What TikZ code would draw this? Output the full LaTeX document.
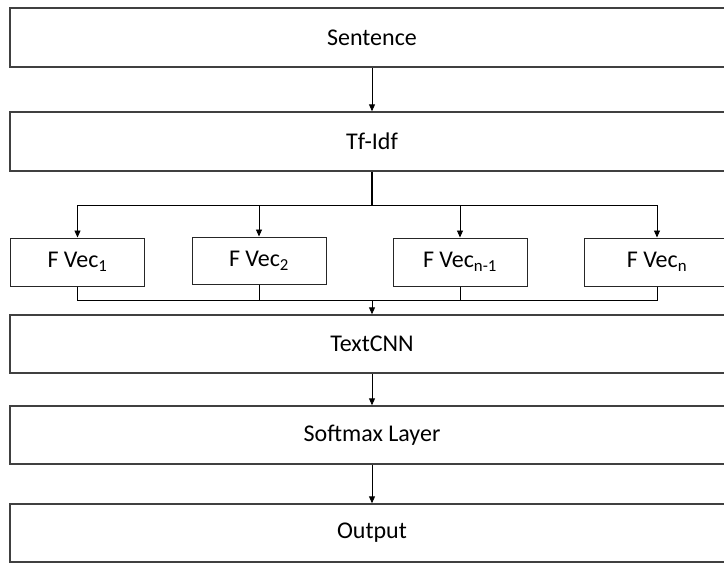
\documentclass[tikz,border=0pt]{standalone}
\usepackage{fontspec}
\setmainfont{Carlito}
\usetikzlibrary{arrows.meta}
\begin{document}
\begin{tikzpicture}[x=1pt,y=-1pt,
  bigbox/.style={draw=black!75, line width=1.4pt, minimum width=724pt, minimum height=58pt, inner sep=0pt, font=\fontsize{24}{28}\selectfont},
  vecbox/.style={draw=black!85, line width=1pt, minimum width=134pt, minimum height=48pt, inner sep=0pt, font=\fontsize{24}{28}\selectfont},
  conn/.style={draw=black, line width=0.9pt},
  arr/.style={conn, -{Triangle[length=7pt,width=6pt]}}]
\clip (0,0) rectangle (724,563);
\fill[white] (0,0) rectangle (724,563);
\node[bigbox, minimum height=59pt] (sent) at (372,37.5) {Sentence};
\node[bigbox, minimum height=59pt] (tfidf) at (372,141.5) {Tf-Idf};
\node[vecbox] (v1) at (77.5,262) {F Vec\textsubscript{1}};
\node[vecbox, minimum height=47pt] (v2) at (259,260.5) {F Vec\textsubscript{2}};
\node[vecbox] (v3) at (460,262) {F Vec\textsubscript{n-1}};
\node[vecbox, minimum width=146pt] (v4) at (657,262) {F Vec\textsubscript{n}};
\node[bigbox] (cnn) at (372,344) {TextCNN};
\node[bigbox] (soft) at (372,435) {Softmax Layer};
\node[bigbox] (out) at (372,533) {Output};
\coordinate (bt) at (372,205);
\coordinate (bb) at (372,300);
\draw[arr] (sent) -- (tfidf);
\draw[conn, line width=1.6pt] (tfidf.south) -- (bt);
\draw[conn] (v1.north |- bt) -- (v4.north |- bt);
\foreach \v in {v1,v2,v3,v4} \draw[arr] (\v.north |- bt) -- (\v.north);
\draw[conn] (v1.south) -- (v1.south |- bb) -- (v4.south |- bb) -- (v4.south);
\draw[conn] (v2.south) -- (v2.south |- bb);
\draw[conn] (v3.south) -- (v3.south |- bb);
\draw[arr] (bb) -- (cnn.north);
\draw[arr] (cnn) -- (soft);
\draw[arr] (soft) -- (out);
\end{tikzpicture}
\end{document}
